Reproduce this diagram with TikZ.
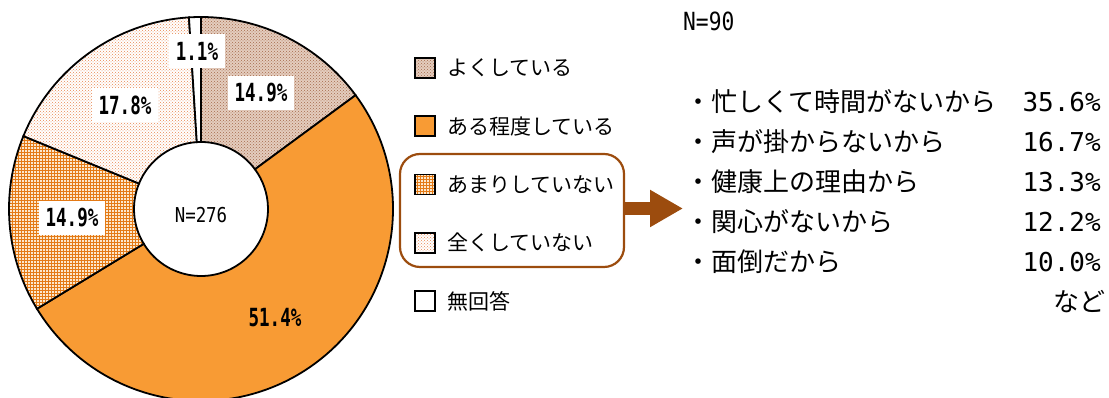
\documentclass[tikz,border=0pt]{standalone}
\usepackage{fontspec}
\usepackage{xcolor}
\usepackage{tikz}
\usetikzlibrary{arrows.meta,patterns,positioning,calc}

\newfontfamily\jpfont{Noto Sans CJK JP}
\newfontfamily\numfont{DejaVu Sans Mono}
\newfontfamily\numcond[FakeStretch=0.85]{DejaVu Sans Mono}
\newfontfamily\pctfont[FakeStretch=0.7]{DejaVu Sans Mono}

\definecolor{partlyorange}{RGB}{248,155,52}
\definecolor{oftenfg}{RGB}{165,105,75}
\definecolor{oftenbg}{RGB}{228,205,190}
\definecolor{rarelyfg}{RGB}{228,122,22}
\definecolor{rarelybg}{RGB}{252,232,205}
\definecolor{neverfg}{RGB}{232,135,80}
\definecolor{brownline}{RGB}{156,76,14}

\tikzset{
    often/.style={preaction={fill=oftenbg}, pattern=crosshatch dots, pattern color=oftenfg},
    partly/.style={fill=partlyorange},
    rarely/.style={preaction={fill=rarelybg}, pattern=grid, pattern color=rarelyfg},
    never/.style={preaction={fill=white}, pattern=crosshatch dots, pattern color=neverfg},
    noanswer/.style={fill=white},
    keybox/.style={draw, line width=1.7, minimum size=20, inner sep=0},
    keytext/.style={inner sep=0, font=\jpfont\fontsize{21}{21}\selectfont},
    pctfont/.style={font=\pctfont\bfseries\fontsize{25}{25}\selectfont},
    pctlabel/.style={pctfont, fill=white, inner xsep=7, inner ysep=8},
    item/.style={anchor=west, inner sep=0, font=\jpfont\fontsize{26}{26}\selectfont},
    itemval/.style={anchor=east, inner sep=0, font=\numfont\fontsize{26}{26}\selectfont}
}

\begin{document}
\begin{tikzpicture}[x=1pt, y=1pt]
    \useasboundingbox (0,0) rectangle (1109,398);
    \coordinate (c) at (201,189);

    % donut slices, clockwise from the top
    \foreach \a/\b/\s in {90/36.36/often, 36.36/-148.68/partly, -148.68/-202.32/rarely, -202.32/-266.4/never, -266.4/-270/noanswer}
        \draw [\s, line width=1.8] ($(c)+(\a:192)$) arc [start angle=\a, end angle=\b, radius=192]
            -- ($(c)+(\b:67)$) arc [start angle=\b, end angle=\a, radius=67] -- cycle;
    \node (hole) [circle, minimum size=134, inner sep=0] at (c) {};
    \node (n276) [font=\numcond\fontsize{20.5}{20.5}\selectfont] at (201,183) {N=276};

    % slice labels
    \node (l1) [pctlabel] at (261,305) {14.9\%};
    \node (l2) [pctfont] at (275,80) {51.4\%};
    \node (l3) [pctlabel] at (72,180) {14.9\%};
    \node (l4) [pctlabel] at (125,293) {17.8\%};
    \node (l5) [pctlabel] at (197,347) {1.1\%};

    % legend
    \node (grp) [draw=brownline, line width=2.2, rounded corners=20, minimum width=224, minimum height=113] at (512,187.5) {};
    \foreach \s/\t [count=\i] in {often/よくしている, partly/ある程度している, rarely/あまりしていない, never/全くしていない, noanswer/無回答} {
        \node (k\i) [keybox, \s] at (425,388.25-58.25*\i) {};
        \node (t\i) [keytext, right=11 of k\i] {\t};
    }

    % arrow to the reasons
    \coordinate (tip) at (683,189.5);
    \draw [brownline, line width=13, -{Triangle[length=33, width=35]}] (grp.east |- tip) -- (tip);

    % reasons
    \node (n90) [anchor=west, inner sep=0, font=\numcond\fontsize{25}{25}\selectfont] at (683,377) {N=90};
    \foreach \t/\v [count=\i] in {忙しくて時間がないから/35.6, 声が掛からないから/16.7, 健康上の理由から/13.3, 関心がないから/12.2, 面倒だから/10.0} {
        \node (r\i) [item] at (685,336-40*\i) {・\t};
        \node (v\i) [itemval] at (1101,336-40*\i) {\v\%};
    }
    \node (etc) [item, anchor=east] at (1106,96) {など};
\end{tikzpicture}
\end{document}
